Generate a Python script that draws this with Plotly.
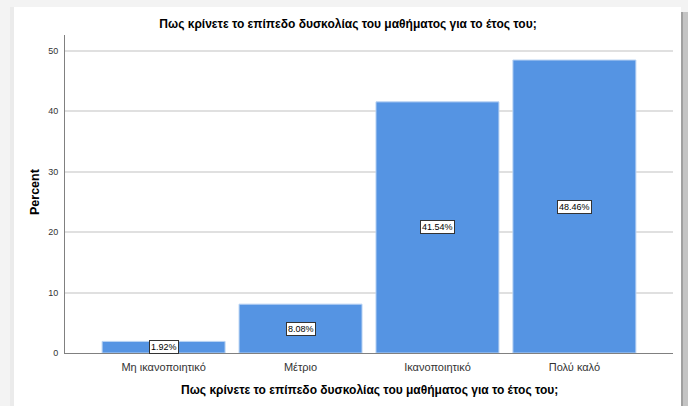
import plotly.graph_objects as go

categories = ["Μη ικανοποιητικό", "Μέτριο", "Ικανοποιητικό", "Πολύ καλό"]
percent = [1.92, 8.08, 41.54, 48.46]
labels = ["1.92%", "8.08%", "41.54%", "48.46%"]
title_text = "Πως κρίνετε το επίπεδο δυσκολίας του μαθήματος για το έτος του;"
y_ticks = [0, 10, 20, 30, 40, 50]

W, H = 688, 406
L, R, T, B = 65, 15, 35, 53
pw, ph = W - L - R, H - T - B

def px(x):
    return (x - L) / pw

def py(y):
    return (H - B - y) / ph

fig = go.Figure()
fig.add_trace(go.Bar(
    x=categories, y=percent, width=0.898,
    marker=dict(color="#5594e3", line=dict(color="#b9d3f3", width=1)),
    hoverinfo="skip",
))

annotations = []
for c, v, t in zip(categories, percent, labels):
    annotations.append(dict(
        x=c, y=v / 2, xref="x", yref="y", text=t, showarrow=False,
        font=dict(family="Liberation Sans, Arial", size=9, color="#000000"),
        bgcolor="#ffffff", bordercolor="#333333", borderwidth=1, borderpad=1,
    ))

annotations.append(dict(
    x=px(369), y=py(390), xref="paper", yref="paper", xanchor="center", yanchor="middle",
    text="<b>" + title_text + "</b>", showarrow=False,
    font=dict(family="Liberation Sans, Arial", size=12, color="#000000"),
))
annotations.append(dict(
    x=px(35), y=py(192), xref="paper", yref="paper", xanchor="center", yanchor="middle",
    text="<b>Percent</b>", showarrow=False, textangle=-90,
    font=dict(family="Liberation Sans, Arial", size=12.5, color="#000000"),
))

shapes = [
    dict(type="rect", xref="paper", yref="paper", x0=px(14), x1=px(681), y0=py(406), y1=py(7),
         fillcolor="#ffffff", line=dict(width=0), layer="below"),
    dict(type="rect", xref="paper", yref="paper", x0=px(10), x1=px(14), y0=py(406), y1=py(7),
         fillcolor="#ebebeb", line=dict(width=0), layer="below"),
    dict(type="rect", xref="paper", yref="paper", x0=px(681), x1=px(683), y0=py(406), y1=py(12),
         fillcolor="#a0a0a0", line=dict(width=0), layer="below"),
    dict(type="rect", xref="paper", yref="paper", x0=px(683), x1=px(688), y0=py(406), y1=py(12),
         fillcolor="#c4c4c4", line=dict(width=0), layer="below"),
]

fig.update_layout(
    width=W, height=H,
    margin=dict(l=L, r=R, t=T, b=B, pad=0, autoexpand=False),
    paper_bgcolor="#f3f3f3", plot_bgcolor="rgba(0,0,0,0)",
    showlegend=False, bargap=0,
    font=dict(family="Liberation Sans, Arial", color="#333333"),
    title=dict(text="<b>" + title_text + "</b>", x=px(348), xref="paper", xanchor="center",
               y=1 - 24 / H, yanchor="middle", yref="container",
               font=dict(size=12, color="#000000")),
    xaxis=dict(
        range=[-0.72, 3.72], showgrid=False, showline=True, linecolor="#808080", linewidth=1,
        ticks="", tickfont=dict(size=11, color="#333333"), automargin=False,
        ticklabelstandoff=4,
    ),
    yaxis=dict(
        range=[0, 52.6], tickvals=y_ticks, showgrid=True, gridcolor="#e0e0e0", gridwidth=2,
        showline=True, linecolor="#808080", linewidth=1, ticks="", zeroline=False,
        tickfont=dict(size=9, color="#333333"), ticklabelstandoff=4, automargin=False,
    ),
    annotations=annotations, shapes=shapes,
)

fig.write_html(
    "out.html",
    config={"displayModeBar": False, "staticPlot": True},
    post_script="document.body.style.margin='0';document.body.style.overflow='hidden';"
                "document.body.style.background='#f3f3f3';",
)
